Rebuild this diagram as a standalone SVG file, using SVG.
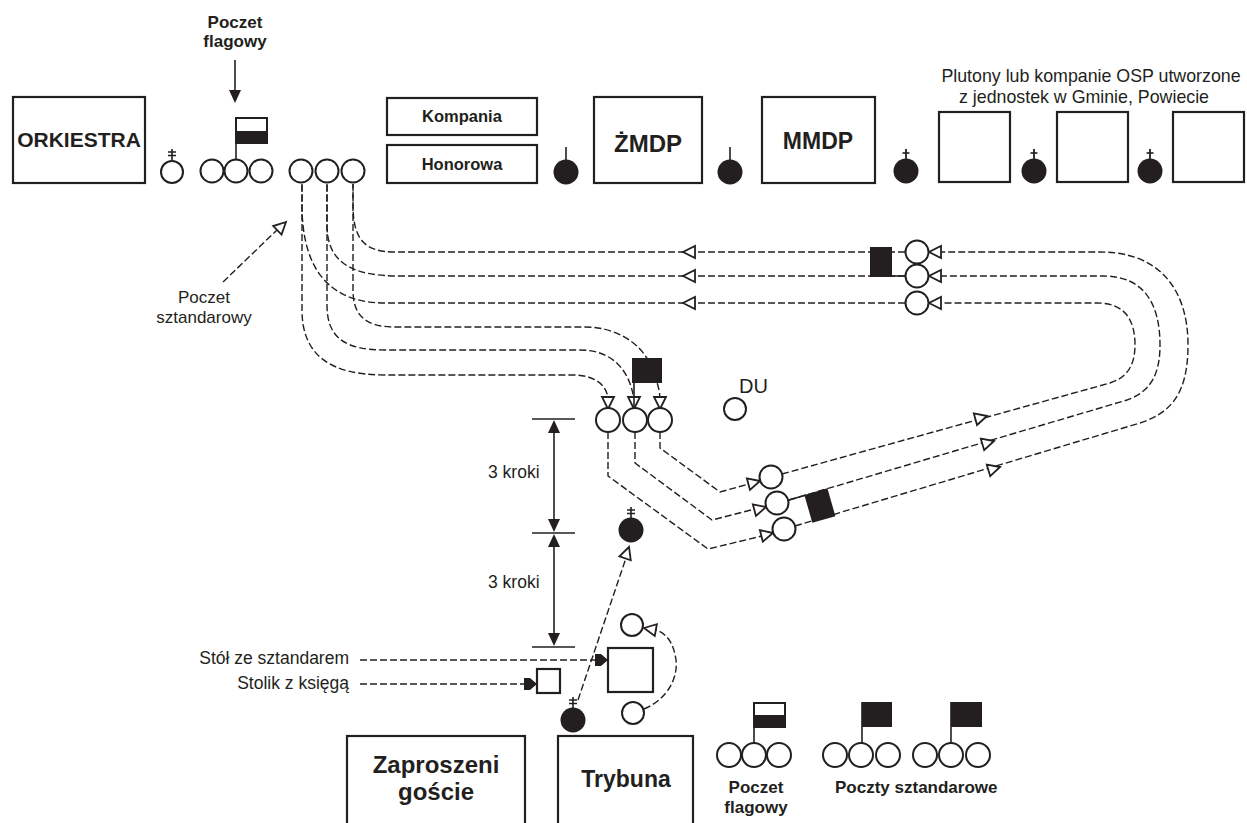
<svg xmlns="http://www.w3.org/2000/svg" xmlns:xlink="http://www.w3.org/1999/xlink" width="1247" height="823" viewBox="0 0 1247 823">
<style>
.ln{fill:none;stroke:#231f20;stroke-width:1.4;stroke-dasharray:7 3}
.sl{fill:none;stroke:#231f20;stroke-width:1.6}
.oc{fill:#fff;stroke:#231f20;stroke-width:2}
.bx{fill:#fff;stroke:#231f20;stroke-width:2.2}
.blk{fill:#231f20}
.oa{fill:#fff;stroke:#231f20;stroke-width:1.8}
text{font-family:"Liberation Sans",Arial,sans-serif;fill:#231f20}
.b{font-weight:bold}
</style>
<defs>
<polygon id="oa" class="oa" points="0,0 -12,-6 -12,6"/>
<polygon id="fa" class="blk" points="0,0 -13,-6 -13,6"/>
<path id="ba" class="blk" d="M0,0 L-7,-6 L-13,-6 L-13,6 L-7,6 Z"/>
<g id="pc2"><line x1="0" y1="-12" x2="0" y2="-23" stroke="#231f20" stroke-width="1.6"/><line x1="-4" y1="-20" x2="4" y2="-20" stroke="#231f20" stroke-width="1.5"/><line x1="-4" y1="-16.5" x2="4" y2="-16.5" stroke="#231f20" stroke-width="1.5"/></g>
<g id="pc1"><line x1="0" y1="-12" x2="0" y2="-22" stroke="#231f20" stroke-width="1.8"/><line x1="-3.5" y1="-18" x2="3.5" y2="-18" stroke="#231f20" stroke-width="1.6"/></g>
</defs>

<g id="connectors">
<!-- top horizontal return lines -->
<path class="ln" d="M905,252 H395 C365,252 353,240 353,205 V184"/>
<path class="ln" d="M905,276 H400 C355,276 327,265 327,225 V184"/>
<path class="ln" d="M905,303 H385 C330,303 302,270 302,205 V184"/>
<!-- lines to middle group -->
<path class="ln" d="M353,184 V290 C353,315 365,327 395,327 H585 C615,327 638,342 648,360 C655,375 660,388 660,400"/>
<path class="ln" d="M327,184 V305 C327,338 345,350 385,350 H580 C612,350 630,370 634,400"/>
<path class="ln" d="M302,184 V310 C302,355 330,375 385,375 H573 C598,375 608,388 608,400"/>
<!-- middle to lower circles -->
<path class="ln" d="M660,432 V448 L720,492 L749,484"/>
<path class="ln" d="M635,432 V463 L712,520 L755,509"/>
<path class="ln" d="M608,432 V476 L708,549 L762,536"/>
<!-- diagonals and loop -->
<path class="ln" d="M782,474 L1110,383 C1125,378 1135,368 1135,345 C1135,320 1125,303 1097,303 H940"/>
<path class="ln" d="M789,500 L1127,400 C1150,392 1160,375 1160,345 C1160,305 1145,276 1103,276 H940"/>
<path class="ln" d="M795,526 L1140,423 C1170,413 1188,395 1188,345 C1188,290 1160,252 1100,252 H940"/>
<!-- pole lines -->
<line class="sl" x1="892" y1="276" x2="906" y2="276"/>
<!-- arrowheads -->
<use xlink:href="#oa" transform="translate(683,252) rotate(180)"/>
<use xlink:href="#oa" transform="translate(683,276) rotate(180)"/>
<use xlink:href="#oa" transform="translate(683,303) rotate(180)"/>
<use xlink:href="#oa" transform="translate(929,252) rotate(180)"/>
<use xlink:href="#oa" transform="translate(929,276) rotate(180)"/>
<use xlink:href="#oa" transform="translate(929,303) rotate(180)"/>
<use xlink:href="#oa" transform="translate(608,409) rotate(90)"/>
<use xlink:href="#oa" transform="translate(634,409) rotate(90)"/>
<use xlink:href="#oa" transform="translate(660,409) rotate(90)"/>
<use xlink:href="#oa" transform="translate(987,416) rotate(-15.5)"/>
<use xlink:href="#oa" transform="translate(994,441) rotate(-16.4)"/>
<use xlink:href="#oa" transform="translate(1000,467) rotate(-16.6)"/>
<use xlink:href="#oa" transform="translate(760,481) rotate(-15)"/>
<use xlink:href="#oa" transform="translate(766,507) rotate(-15)"/>
<use xlink:href="#oa" transform="translate(773,533) rotate(-14)"/>
<!-- poczet sztandarowy label arrow -->
<line class="ln" x1="223" y1="282" x2="278" y2="229"/>
<use xlink:href="#oa" transform="translate(286,222) rotate(-44)"/>
<!-- poczet flagowy arrow -->
<line class="sl" x1="235" y1="60" x2="235" y2="92" stroke-width="2"/>
<use xlink:href="#fa" transform="translate(235,103) rotate(90)"/>
<!-- dimensions -->
<line class="sl" x1="532" y1="419" x2="575" y2="419"/>
<line class="sl" x1="532" y1="533" x2="575" y2="533"/>
<line class="sl" x1="532" y1="647" x2="575" y2="647"/>
<line class="sl" x1="554" y1="430" x2="554" y2="522" stroke-width="2"/>
<line class="sl" x1="554" y1="544" x2="554" y2="636" stroke-width="2"/>
<use xlink:href="#fa" transform="translate(554,420) rotate(-90)"/>
<use xlink:href="#fa" transform="translate(554,532) rotate(90)"/>
<use xlink:href="#fa" transform="translate(554,534) rotate(-90)"/>
<use xlink:href="#fa" transform="translate(554,646) rotate(90)"/>
<!-- table lines -->
<line class="ln" x1="360" y1="660" x2="597" y2="660"/>
<use xlink:href="#ba" transform="translate(608,660)"/>
<line class="ln" x1="360" y1="684" x2="526" y2="684"/>
<use xlink:href="#ba" transform="translate(537,684)"/>
<!-- bottom person to middle person -->
<line class="ln" x1="578" y1="700" x2="626" y2="558"/>
<use xlink:href="#oa" transform="translate(629,547) rotate(-71)"/>
<!-- flag bearer loop -->
<path class="ln" d="M644,709 C670,698 678,675 676,660 C674,645 668,634 656,630"/>
<use xlink:href="#oa" transform="translate(644,628) rotate(190)"/>
</g>

<g id="orkiestra"><rect class="bx" x="13" y="97" width="132" height="86"/><text class="b" x="79" y="147" font-size="21" text-anchor="middle">ORKIESTRA</text></g>
<g id="dowodca-orkiestry"><use xlink:href="#pc2" transform="translate(172,172)"/><circle class="oc" cx="172" cy="172" r="11"/></g>
<g id="poczet-flagowy">
<text class="b" x="235" y="28" font-size="17" text-anchor="middle">Poczet</text>
<text class="b" x="235" y="47" font-size="17" text-anchor="middle">flagowy</text>
<line class="sl" x1="236" y1="160" x2="236" y2="118" stroke-width="1.8"/>
<rect x="236" y="118" width="31" height="25" fill="#fff" stroke="#231f20" stroke-width="2"/>
<rect class="blk" x="236" y="131" width="31" height="12"/>
<circle class="oc" cx="212" cy="171" r="11.5"/><circle class="oc" cx="236" cy="171" r="11.5"/><circle class="oc" cx="261" cy="171" r="11.5"/>
</g>
<g id="poczet-sztandarowy">
<circle class="oc" cx="301" cy="171" r="11.5"/><circle class="oc" cx="327" cy="171" r="11.5"/><circle class="oc" cx="353" cy="171" r="11.5"/>
<text x="204" y="303" font-size="17" text-anchor="middle">Poczet</text>
<text x="204" y="323" font-size="17" text-anchor="middle">sztandarowy</text>
</g>
<g id="kompania-honorowa">
<rect class="bx" x="387" y="98" width="150" height="37"/><text class="b" x="462" y="122" font-size="16.5" text-anchor="middle">Kompania</text>
<rect class="bx" x="387" y="145" width="150" height="38"/><text class="b" x="462" y="170" font-size="16.5" text-anchor="middle">Honorowa</text>
</g>
<g id="dowodca-1"><line class="sl" x1="566" y1="147" x2="566" y2="160" stroke-width="1.8"/><circle class="blk" cx="566" cy="172" r="12.5"/></g>
<g id="zmdp"><rect class="bx" x="594" y="97" width="108" height="86"/><text class="b" x="648" y="152" font-size="24" text-anchor="middle">ŻMDP</text></g>
<g id="dowodca-2"><line class="sl" x1="730" y1="147" x2="730" y2="160" stroke-width="1.8"/><circle class="blk" cx="730" cy="172" r="12.5"/></g>
<g id="mmdp"><rect class="bx" x="762" y="97" width="113" height="86"/><text class="b" x="818" y="149" font-size="23" text-anchor="middle">MMDP</text></g>
<g id="plutony">
<text x="1091" y="82" font-size="17.8" text-anchor="middle">Plutony lub kompanie OSP utworzone</text>
<text x="1084" y="103" font-size="17.8" text-anchor="middle">z jednostek w Gminie, Powiecie</text>
<use xlink:href="#pc1" transform="translate(906,171)"/><circle class="blk" cx="906" cy="171" r="12.5"/>
<rect class="bx" x="939" y="112" width="71" height="70"/>
<use xlink:href="#pc1" transform="translate(1034,171)"/><circle class="blk" cx="1034" cy="171" r="12.5"/>
<rect class="bx" x="1057" y="112" width="71" height="70"/>
<use xlink:href="#pc1" transform="translate(1150,171)"/><circle class="blk" cx="1150" cy="171" r="12.5"/>
<rect class="bx" x="1173" y="112" width="71" height="70"/>
</g>
<g id="zawrot">
<rect class="blk" x="870" y="247" width="22" height="30"/>
<circle class="oc" cx="917" cy="252" r="11.5"/><circle class="oc" cx="917" cy="276" r="11.5"/><circle class="oc" cx="917" cy="303" r="11.5"/>
</g>
<g id="grupa-srodek">
<rect class="blk" x="632" y="358" width="30" height="25"/>
<line class="sl" x1="634" y1="383" x2="634" y2="409" stroke-width="1.8"/>
<circle class="oc" cx="608" cy="420" r="12"/><circle class="oc" cx="635" cy="420" r="12"/><circle class="oc" cx="660" cy="420" r="12"/>
</g>
<g id="du"><circle class="oc" cx="735" cy="409" r="11"/><text x="739" y="393" font-size="20">DU</text></g>
<g id="grupa-dol">
<line class="sl" x1="789" y1="500" x2="806" y2="495" stroke-width="1.8"/>
<rect class="blk" x="-12" y="-15" width="24" height="29" transform="translate(820,506) rotate(-16)"/>
<circle class="oc" cx="771" cy="477" r="11.5"/><circle class="oc" cx="777" cy="503" r="11.5"/><circle class="oc" cx="784" cy="529" r="11.5"/>
</g>
<g id="wymiary"><text x="488" y="478" font-size="17.5">3 kroki</text><text x="488" y="588" font-size="17.5">3 kroki</text></g>
<g id="dowodca-srodek"><use xlink:href="#pc2" transform="translate(631,530)"/><circle class="blk" cx="631" cy="530" r="12.5"/></g>
<g id="stol"><rect class="bx" x="608" y="648" width="45" height="44" stroke-width="1.8"/><text x="349" y="664" font-size="17.5" text-anchor="end">Stół ze sztandarem</text></g>
<g id="stolik"><rect class="bx" x="537" y="669" width="23" height="24" stroke-width="1.8"/><text x="349" y="689" font-size="17.5" text-anchor="end">Stolik z księgą</text></g>
<g id="poczet-przy-stole"><circle class="oc" cx="632" cy="625" r="11"/><circle class="oc" cx="633" cy="713" r="11"/></g>
<g id="dowodca-dol"><use xlink:href="#pc2" transform="translate(573,720)"/><circle class="blk" cx="573" cy="720" r="12.5"/></g>
<g id="zaproszeni"><rect class="bx" x="347" y="736" width="178" height="100"/><text class="b" x="436" y="773" font-size="24" text-anchor="middle">Zaproszeni</text><text class="b" x="436" y="800" font-size="24" text-anchor="middle">goście</text></g>
<g id="trybuna"><rect class="bx" x="558" y="736" width="135" height="100"/><text class="b" x="626" y="787" font-size="23" text-anchor="middle">Trybuna</text></g>
<g id="legenda-flagowy">
<line class="sl" x1="754" y1="743" x2="754" y2="703" stroke-width="1.8"/>
<rect x="754" y="703" width="31" height="24" fill="#fff" stroke="#231f20" stroke-width="2"/>
<rect class="blk" x="754" y="715" width="31" height="12"/>
<circle class="oc" cx="729" cy="755" r="12"/><circle class="oc" cx="754" cy="755" r="12"/><circle class="oc" cx="779" cy="755" r="12"/>
<text class="b" x="756" y="793" font-size="17" text-anchor="middle">Poczet</text>
<text class="b" x="756" y="813" font-size="17" text-anchor="middle">flagowy</text>
</g>
<g id="legenda-sztandarowe">
<line class="sl" x1="862" y1="743" x2="862" y2="702" stroke-width="1.8"/>
<rect class="blk" x="862" y="702" width="30" height="25"/>
<circle class="oc" cx="835" cy="755" r="12"/><circle class="oc" cx="861" cy="755" r="12"/><circle class="oc" cx="888" cy="755" r="12"/>
<line class="sl" x1="951" y1="743" x2="951" y2="702" stroke-width="1.8"/>
<rect class="blk" x="951" y="702" width="31" height="25"/>
<circle class="oc" cx="925" cy="755" r="12"/><circle class="oc" cx="951" cy="755" r="12"/><circle class="oc" cx="978" cy="755" r="12"/>
<text class="b" x="835" y="793" font-size="17">Poczty sztandarowe</text>
</g>
</svg>
